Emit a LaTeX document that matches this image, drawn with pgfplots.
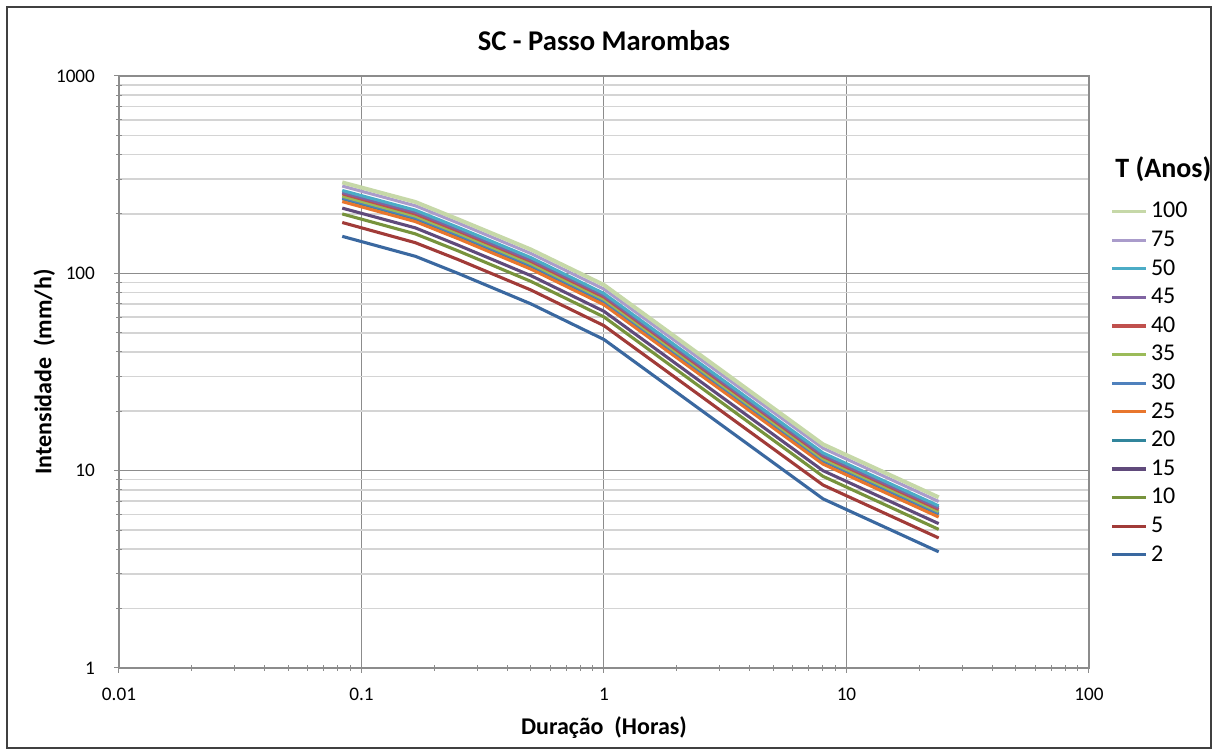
\documentclass[border=0pt]{standalone}
\usepackage{fontspec}
\setmainfont{Carlito}
\usepackage{pgfplots}
\usepackage{pgfplotstable}
\pgfplotsset{compat=1.18}

\definecolor{cA}{HTML}{3A68A0}
\definecolor{cB}{HTML}{A13B38}
\definecolor{cC}{HTML}{77933C}
\definecolor{cD}{HTML}{604A7B}
\definecolor{cE}{HTML}{31859C}
\definecolor{cF}{HTML}{E8762D}
\definecolor{cG}{HTML}{4F81BD}
\definecolor{cH}{HTML}{9BBB59}
\definecolor{cI}{HTML}{C0504D}
\definecolor{cJ}{HTML}{8064A2}
\definecolor{cK}{HTML}{4BACC6}
\definecolor{cL}{HTML}{AA9CCB}
\definecolor{cM}{HTML}{C6D8A8}
\definecolor{gridmaj}{HTML}{8C8C8C}
\definecolor{gridmin}{HTML}{D4D4D4}

% intensidade (mm/h) por duracao (h) e periodo de retorno T (anos)
\pgfplotstableread{
t      T2    T5    T10   T15   T20   T25   T30   T35   T40   T45   T50   T75   T100
0.0833 154   181   200   214   239   231   242   246   253   257   263   277   289
0.1667 122   143   158.5 170   189   183   191.5 195   200   204   209   220   230
0.25   100   117.5 130   139   155   150   157   160   164   167   171   180   188
0.5    70    82.3  91    97.3  108.5 105   110   112   115   117   120   126   132
1      46.2  54.3  60.1  64.2  71.6  69.3  72.5  73.9  75.8  77.2  79    83.2  87.3
8      7.2   8.46  9.36  10.0  11.2  10.8  11.3  11.5  11.8  12.0  12.3  13.0  13.6
24     3.88  4.56  5.04  5.39  6.01  5.82  6.09  6.21  6.36  6.48  6.63  6.98  7.33
}\idf

\begin{document}
\begin{tikzpicture}
\useasboundingbox (0pt,0pt) rectangle (608.5pt,377.5pt);
\draw[black!75, line width=0.75pt] (3.5pt,3.5pt) rectangle (605.5pt,374pt);
\begin{axis}[
    at={(59.5pt,43.5pt)}, anchor=south west,
    scale only axis, width=485pt, height=296pt,
    xmode=log, ymode=log,
    xmin=0.01, xmax=100, ymin=1, ymax=1000,
    xtick={0.01,0.1,1,10,100}, xticklabels={0.01,0.1,1,10,100},
    ytick={1,10,100,1000}, yticklabels={1,10,100,1000},
    xmajorgrids, ymajorgrids, yminorgrids, xminorgrids=false,
    major grid style={color=gridmaj, line width=0.5pt},
    minor grid style={color=gridmin, line width=0.8pt},
    axis line style={color=gridmaj, line width=0.6pt},
    every tick/.style={color=gridmaj, line width=0.5pt},
    tick align=center,
    major tick length=5pt, minor tick length=3pt,
    ytick pos=left, xtick pos=bottom,
    tick label style={font=\fontsize{9.6}{11}\selectfont, color=black},
    yticklabel style={xshift=-6pt},
    xticklabel style={yshift=-4pt},
    title={\textbf{SC - Passo Marombas}},
    title style={font=\fontsize{14.3}{16}\selectfont, at={(axis description cs:0.5,1.040)}, anchor=center},
    xlabel={\textbf{Duração\ \ (Horas)}},
    xlabel style={font=\fontsize{12}{14}\selectfont, at={(axis description cs:0.5,-0.113)}, anchor=base},
    ylabel={\textbf{Intensidade\ \ (mm/h)}},
    ylabel style={font=\fontsize{12}{14}\selectfont, at={(axis description cs:-0.077,0.5)}, anchor=center},
    reverse legend,
    legend cell align=left,
    legend style={draw=none, fill=none, inner sep=0pt, outer sep=0pt,
        at={(axis description cs:1.0225,0.795)}, anchor=north west,
        font=\fontsize{12}{13}\selectfont, row sep=0pt, column sep=1.5pt,
        nodes={inner sep=0pt, minimum height=14.3pt}},
    legend image code/.code={\draw[#1, line width=1.6pt] (0pt,0pt) -- (17pt,0pt);},
    every axis plot/.append style={line width=1.55pt, line join=round},
]
\addplot[cA] table[x=t, y=T2] {\idf};
\addplot[cB] table[x=t, y=T5] {\idf};
\addplot[cC] table[x=t, y=T10] {\idf};
\addplot[cD] table[x=t, y=T15] {\idf};
\addplot[cE] table[x=t, y=T20] {\idf};
\addplot[cF] table[x=t, y=T25] {\idf};
\addplot[cG] table[x=t, y=T30] {\idf};
\addplot[cH] table[x=t, y=T35] {\idf};
\addplot[cI] table[x=t, y=T40] {\idf};
\addplot[cJ] table[x=t, y=T45] {\idf};
\addplot[cK] table[x=t, y=T50] {\idf};
\addplot[cL] table[x=t, y=T75] {\idf};
\addplot[cM, line width=2pt] table[x=t, y=T100] {\idf};
\legend{2,5,10,15,20,25,30,35,40,45,50,75,100}
\end{axis}
\node[anchor=base west, font=\fontsize{14}{16}\selectfont\bfseries, inner sep=0pt] at (557.5pt,288.5pt) {T (Anos)};
\end{tikzpicture}
\end{document}
